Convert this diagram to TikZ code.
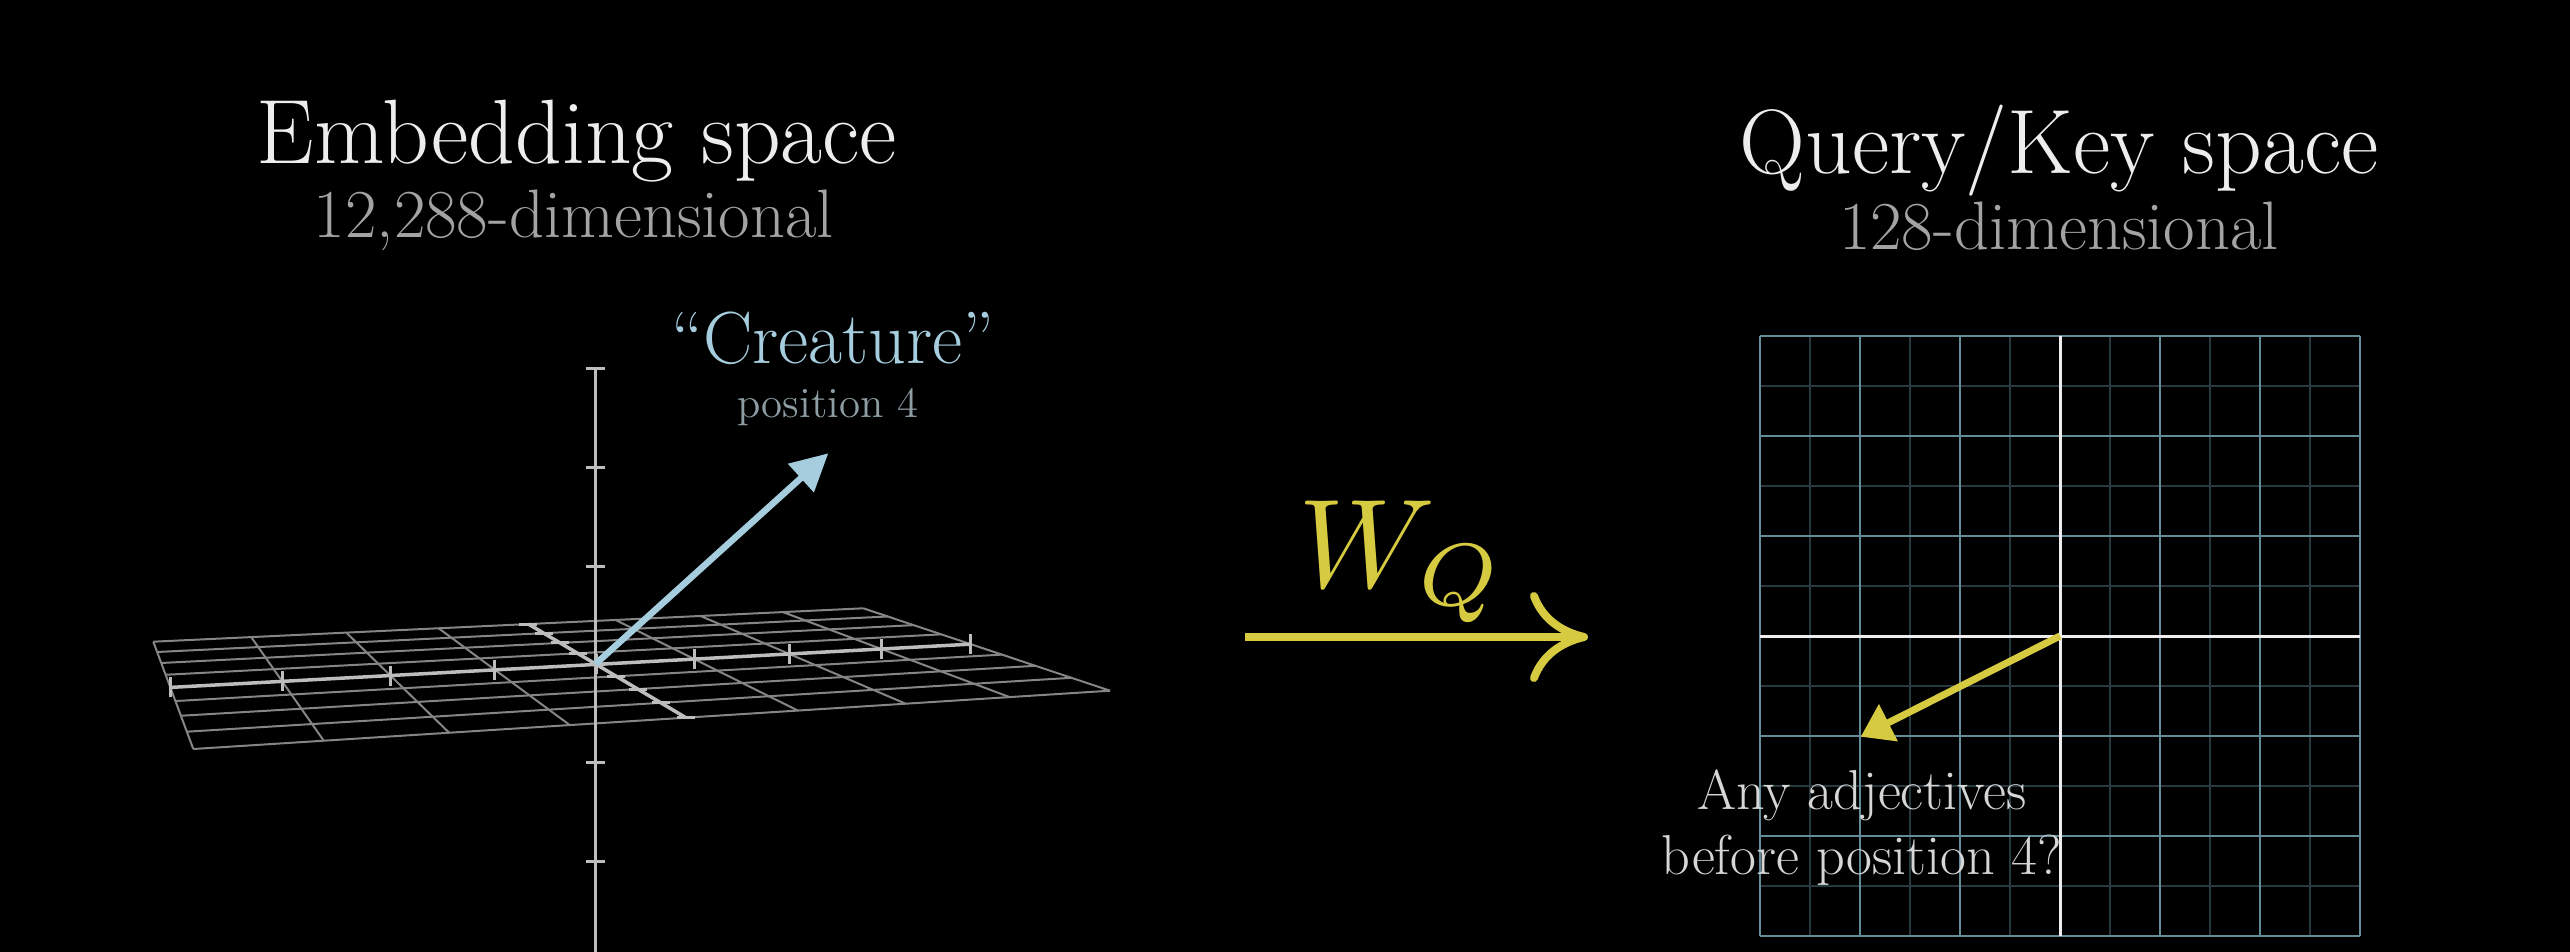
\documentclass[tikz,border=0pt]{standalone}
\usepackage{xcolor}
\usepackage{tikz}
\usetikzlibrary{arrows.meta, positioning}

\definecolor{titlewhite}{HTML}{EDEDED}
\definecolor{dimgrey}{HTML}{A3A3A3}
\definecolor{creatureblue}{HTML}{A6CDDD}
\definecolor{posgrey}{HTML}{8E9DA4}
\definecolor{planegrey}{HTML}{858585}
\definecolor{axisgrey}{HTML}{BDBDBD}
\definecolor{wqyellow}{HTML}{D6CB40}
\definecolor{gridmajor}{HTML}{628C99}
\definecolor{gridminor}{HTML}{26393F}
\definecolor{adjgrey}{HTML}{D6D6D6}

\pgfmathdeclarefunction{planex}{2}{\pgfmathparse{(1095.9*(#1)+13.23*(#2)+193.3)/(0.16144*(#1)+0.34722*(#2)+1)}}
\pgfmathdeclarefunction{planey}{2}{\pgfmathparse{(53.21*(#1)+115.51*(#2)+749)/(0.16144*(#1)+0.34722*(#2)+1)}}

\begin{document}
\begin{tikzpicture}[
    x=0.01cm, y=-0.01cm,
    bigtitle/.style={text=titlewhite, font=\fontsize{26}{30}\selectfont, inner sep=0pt},
    dimlabel/.style={text=dimgrey, font=\fontsize{19.5}{23}\selectfont, inner sep=0pt},
    planeline/.style={draw=planegrey, line width=0.02cm},
    planeaxis/.style={draw=axisgrey, line width=0.035cm},
    planetick/.style={draw=axisgrey, line width=0.03cm},
    creaturevec/.style={draw=creatureblue, fill=creatureblue, line width=0.065cm,
        -{Triangle[length=0.37cm, width=0.37cm]}},
    queryvec/.style={draw=wqyellow, fill=wqyellow, line width=0.07cm,
        -{Triangle[length=0.31cm, width=0.40cm]}},
    maparrow/.style={draw=wqyellow, line width=0.08cm,
        -{Computer Modern Rightarrow[length=0.58cm, width=0.9cm]}},
    minorline/.style={draw=gridminor, line width=0.015cm},
    majorline/.style={draw=gridmajor, line width=0.02cm},
    qkaxis/.style={draw=titlewhite, line width=0.03cm}
]

\fill[black] (0,0) rectangle (2570,952);
\useasboundingbox (0,0) rectangle (2570,952);

\node[bigtitle, anchor=base] (embtitle) at (577,164) {Embedding space};
\node[dimlabel, anchor=base] (embdim) at (574,238) {12,288-dimensional};
\node[bigtitle, anchor=base] (qktitle) at (2059,174) {Query/Key space};
\node[dimlabel, anchor=base] (qkdim) at (2059,250) {128-dimensional};

\foreach \k in {0,...,8} {
    \draw[planeline] ({planex(\k/8,0)},{planey(\k/8,0)}) -- ({planex(\k/8,1)},{planey(\k/8,1)});
    \draw[planeline] ({planex(0,\k/8)},{planey(0,\k/8)}) -- ({planex(1,\k/8)},{planey(1,\k/8)});
}
\draw[planeaxis] ({planex(0,0.5)},{planey(0,0.5)}) -- ({planex(1,0.5)},{planey(1,0.5)});
\draw[planeaxis] ({planex(0.5,0)},{planey(0.5,0)}) -- ({planex(0.5,1)},{planey(0.5,1)});
\foreach \k in {0,...,8} {
    \draw[planetick] ({planex(\k/8,0.5)},{planey(\k/8,0.5)-10}) -- ++(0,20);
    \draw[planetick] ({planex(0.5,\k/8)-9},{planey(0.5,\k/8)}) -- ++(18,0);
}

\coordinate (ztop) at (595.5,368.6);
\coordinate (zbot) at (595.5,952);
\draw[planetick] (ztop) -- (zbot);
\foreach \y in {368.6,467.6,566.1,762.8,861.3}
    \draw[planetick] (586,\y) -- (605,\y);

\coordinate (eorigin) at (595.5,664);
\coordinate (creaturetip) at (828.3,453.3);
\draw[creaturevec] (eorigin) -- (creaturetip);
\node[text=creatureblue, font=\fontsize{21}{25}\selectfont, anchor=base] (creature) at (833,364) {``Creature''};
\node[text=posgrey, font=\fontsize{12.2}{14}\selectfont, anchor=base] (position) at (828,418) {position 4};

\coordinate (mapstart) at (1245,637);
\coordinate (mapend) at (1588,637);
\draw[maparrow] (mapstart) -- (mapend);
\node[text=wqyellow, scale=3.6, anchor=base west, inner sep=0pt] (wq) at (1296,587) {$W_Q$};

\foreach \x in {1810,1910,...,2310}
    \draw[minorline] (\x,336) -- (\x,936);
\foreach \y in {386,486,...,886}
    \draw[minorline] (1760,\y) -- (2360,\y);
\foreach \x in {1760,1860,...,2360}
    \draw[majorline] (\x,336) -- (\x,936);
\foreach \y in {336,436,...,936}
    \draw[majorline] (1760,\y) -- (2360,\y);
\draw[qkaxis] (2060,336) -- (2060,936);
\draw[qkaxis] (1760,636) -- (2360,636);

\coordinate (qorigin) at (2060,636);
\coordinate (adjtip) at (1860.7,736.7);
\draw[queryvec] (qorigin) -- (adjtip);
\node[text=adjgrey, font=\fontsize{16}{18.3}\selectfont, align=center, anchor=base] (adjquestion) at (1862,874) {Any adjectives\\before position 4?};

\end{tikzpicture}
\end{document}
